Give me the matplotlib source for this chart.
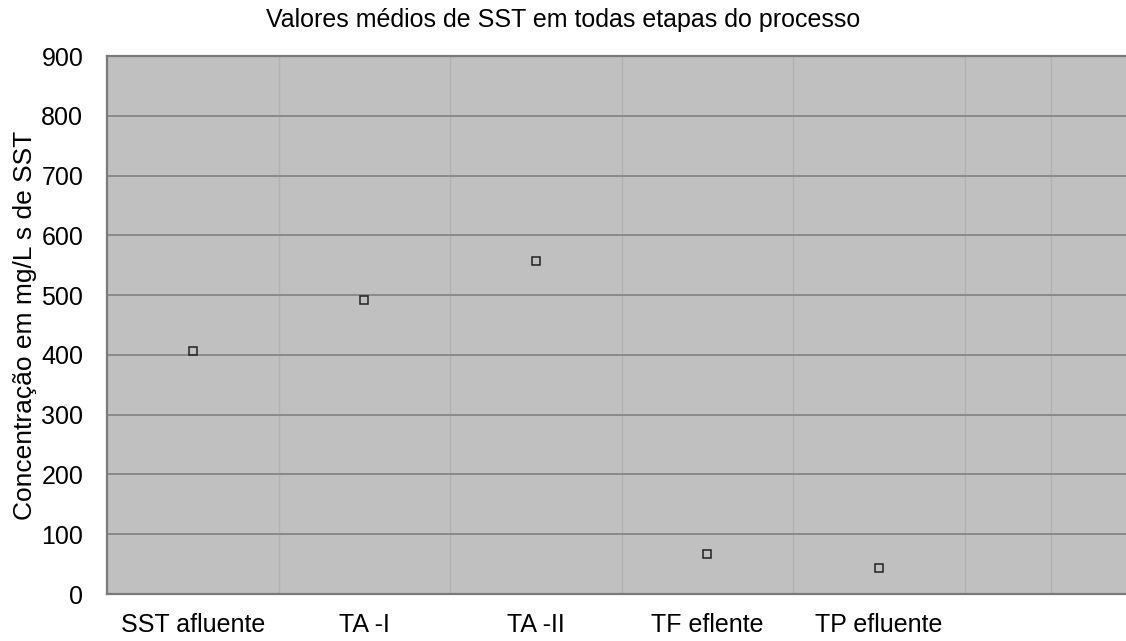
import numpy as np
import matplotlib.pyplot as plt

# dados (mg/L de SST)
etapas = ["SST afluente", "TA -I", "TA -II", "TF eflente", "TP efluente"]
sst_medio = [406, 492, 557, 67, 44]

plt.rcParams['font.family'] = ['Liberation Sans', 'DejaVu Sans']

fig = plt.figure(figsize=(11.26, 6.41), dpi=100)
ax = fig.add_axes([0.095, 0.0733, 0.905, 0.8393])
ax.set_facecolor('#c0c0c0')

x = np.arange(1, len(etapas) + 1)
ax.plot(x, sst_medio, linestyle='none', marker='s', markersize=6,
        markerfacecolor='none', markeredgecolor='#222222', markeredgewidth=1.1, zorder=3)

ax.set_xlim(0.5, 6.44)
ax.set_ylim(0, 900)
ax.set_yticks(np.arange(0, 901, 100))
ax.set_xticks(x)
ax.set_xticklabels(etapas)
ax.set_xticks(np.arange(1, 6.5, 0.5), minor=True)

ax.grid(axis='y', which='major', color='#8a8a8a', linewidth=1.4)
ax.grid(axis='x', which='minor', color='#b2b2b2', linewidth=1.0)
ax.set_axisbelow(True)

ax.tick_params(axis='both', which='both', length=0, labelsize=18)
ax.tick_params(axis='y', pad=17)
ax.tick_params(axis='x', pad=14)

for s in ['left', 'bottom', 'top']:
    ax.spines[s].set_color('#7a7a7a')
    ax.spines[s].set_linewidth(1.6)
ax.spines['right'].set_visible(False)

ax.set_ylabel("Concentração em mg/L s de SST", fontsize=19, labelpad=3)
fig.suptitle("Valores médios de SST em todas etapas do processo", fontsize=18,
             x=0.5, y=0.988, va='top')

fig.savefig("out.png", dpi=100)
